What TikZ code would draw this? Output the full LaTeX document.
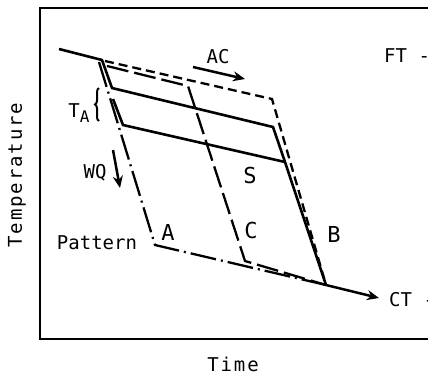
\documentclass[tikz,border=0pt]{standalone}
\usepackage{fontspec}
\setmonofont{DejaVu Sans Mono}
\newfontfamily\axisfont[LetterSpace=10]{DejaVu Sans Mono}
\usetikzlibrary{arrows.meta,decorations.pathreplacing}
\begin{document}
\begin{tikzpicture}[x=1pt,y=-1pt,
  lbl/.style={font=\ttfamily\fontsize{19}{19}\selectfont, inner sep=0pt},
  big/.style={font=\ttfamily\fontsize{22}{22}\selectfont, inner sep=0pt},
  axislbl/.style={font=\axisfont\fontsize{19}{19}\selectfont, inner sep=0pt},
  solidline/.style={line width=2.6pt, line join=round},
  dashB/.style={line width=2.3pt, dash pattern=on 9pt off 5pt},
  dashC/.style={line width=2.3pt, dash pattern=on 22pt off 6pt},
  dashA/.style={line width=2.3pt, dash pattern=on 26pt off 5pt on 2pt off 5pt},
  arr/.style={line width=2.5pt, -{Stealth[length=12pt,width=10pt]}},
]
\useasboundingbox (0,0) rectangle (428,376);
\clip (0,0) rectangle (428,376);
% frame
\coordinate (fr1) at (440,8);
\coordinate (fr2) at (40,8);
\coordinate (fr3) at (40,339);
\coordinate (fr4) at (440,339);
\draw[line width=2.8pt] (fr1) -- (fr2) -- (fr3) -- (fr4);
% points
\coordinate (s0) at (59,49);
\coordinate (s1) at (102,60);
\coordinate (u1) at (112,88);
\coordinate (u2) at (273,127);
\coordinate (l0) at (113,99);
\coordinate (l1) at (123,125);
\coordinate (l2) at (285,162);
\coordinate (F) at (326,285);
\coordinate (a0) at (99,62);
\coordinate (a1) at (155,245);
\coordinate (b0) at (105,61);
\coordinate (b1) at (272,99);
\coordinate (c0) at (107,66);
\coordinate (c1) at (188,86);
\coordinate (c2) at (245,261);
\coordinate (ct) at (379,298);
% curves
\draw[solidline] (s0) -- (s1) -- (u1) -- (u2) -- (l2);
\draw[solidline] (l0) -- (l1) -- (l2) -- (F);
\draw[dashA] (a0) -- (a1) -- (F);
\draw[dashB] (b0) -- (b1) -- (F);
\draw[dashC] (c0) -- (c1) -- (c2) -- (F);
\draw[arr] (F) -- (ct);
% labels
\node[lbl] (ac) at (218,57) {AC};
\coordinate (ac0) at (193,67);
\coordinate (ac1) at (245,79);
\draw[arr] (ac0) -- (ac1);
\node[lbl, anchor=west] (ft) at (384,56) {FT -};
\node[lbl, anchor=west] (ctl) at (389,300) {CT -};
\node[lbl] (ta) at (79,113) {T\raisebox{-0.3em}{\fontsize{16}{16}\selectfont A}};
\coordinate (br0) at (99,121);
\coordinate (br1) at (99,88);
\draw[line width=2pt, decorate, decoration={brace, amplitude=4pt}] (br0) -- (br1);
\node[lbl] (wq) at (95,173) {WQ};
\coordinate (wq0) at (113,150);
\coordinate (wq1) at (120,188);
\draw[arr] (wq0) -- (wq1);
\node[lbl] (pat) at (97,243) {Pattern};
\node[big] (A) at (168,232) {A};
\node[big] (S) at (250,175) {S};
\node[big] (C) at (251,230) {C};
\node[big] (B) at (334,234) {B};
\node[axislbl, rotate=90] (temp) at (17,175) {Temperature};
\node[axislbl] (time) at (233,364) {Time};
\end{tikzpicture}
\end{document}
